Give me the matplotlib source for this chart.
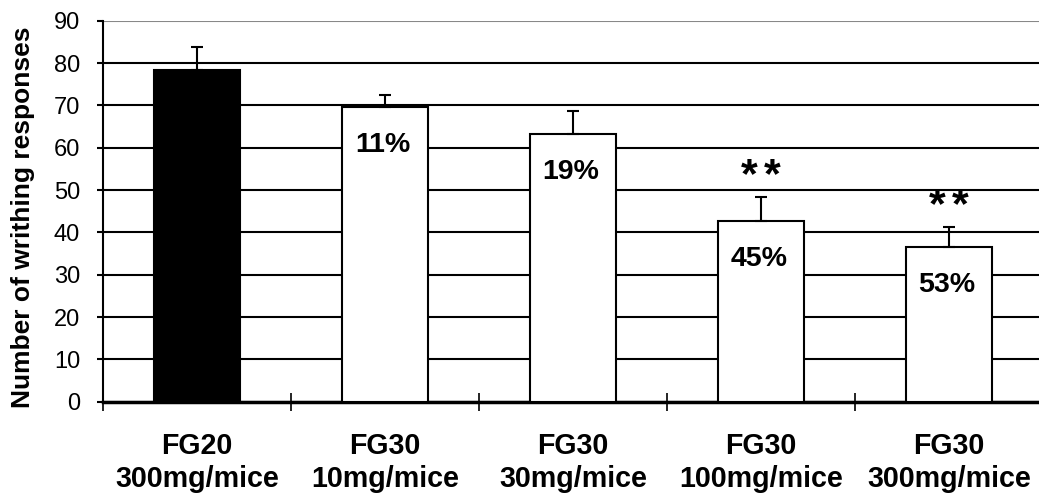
import numpy as np
import matplotlib.pyplot as plt

plt.rcParams['font.family'] = ['Liberation Sans', 'DejaVu Sans']

# writhing responses per group (mean and upper error)
groups = ["FG20\n300mg/mice", "FG30\n10mg/mice", "FG30\n30mg/mice",
          "FG30\n100mg/mice", "FG30\n300mg/mice"]
means = [78.4, 69.7, 63.2, 42.8, 36.6]
errors = [5.5, 2.8, 5.5, 5.6, 4.7]
inhibition = ["", "11%", "19%", "45%", "53%"]
significance = ["", "", "", "**", "**"]
bar_colors = ["black", "white", "white", "white", "white"]

fig = plt.figure(figsize=(10.39, 4.94), dpi=100)
ax = fig.add_axes([103 / 1039, 92.3 / 494, 940 / 1039, 381 / 494])

x = np.arange(len(groups))
ax.bar(x, means, width=0.46, color=bar_colors, edgecolor="black",
       linewidth=1.5, zorder=3)
ax.errorbar(x, means, yerr=[np.zeros(len(errors)), errors], fmt="none",
            ecolor="black", elinewidth=1.5, capsize=4.5, capthick=1.5,
            zorder=4)

for xi, m, e, pct, sig in zip(x, means, errors, inhibition, significance):
    if pct:
        ax.text(xi - 0.01, m - 9, pct, ha="center", va="center",
                fontsize=20.5, fontweight="bold", zorder=5)
    # stars spaced apart a little wider than the font would set them
    for k, ch in enumerate(sig):
        dx = (k - (len(sig) - 1) / 2) * 16.5
        ax.annotate(ch, (xi, m + e + 4.8), xytext=(dx, 0),
                    textcoords="offset points", ha="center", va="center",
                    fontsize=31, fontweight="bold", zorder=5)

ax.set_xlim(-0.5, len(groups) - 0.5)
ax.set_ylim(0, 90)
ax.set_yticks(np.arange(0, 91, 10))
ax.tick_params(axis="y", direction="out", length=4.5, width=1.5,
               labelsize=17, pad=12)

ax.set_xticks(x)
ax.set_xticklabels(groups, fontsize=20.6, fontweight="bold",
                   linespacing=1.22)
ax.tick_params(axis="x", which="major", length=0, pad=22)
ax.set_xticks(np.arange(-0.5, len(groups), 1.0), minor=True)
ax.tick_params(axis="x", which="minor", direction="inout", length=13,
               width=1.2)

ax.yaxis.grid(True, color="black", linewidth=1.5, zorder=0)
ax.set_axisbelow(True)
ax.get_ygridlines()[-1].set_color("#888888")

for side in ("top", "right"):
    ax.spines[side].set_visible(False)
ax.spines["left"].set_linewidth(1.5)
ax.spines["bottom"].set_linewidth(2.5)
ax.spines["left"].set_bounds(0, 90)

ax.set_ylabel("Number of writhing responses", fontsize=19,
              fontweight="bold")
ax.yaxis.set_label_coords(-68 / 940, 0.483)

fig.savefig("out.png", dpi=100)
